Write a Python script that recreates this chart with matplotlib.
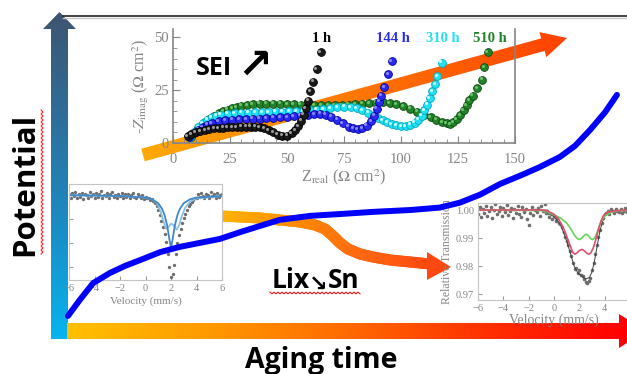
import numpy as np
import matplotlib
matplotlib.use('Agg')
import matplotlib.pyplot as plt
from matplotlib.patches import Polygon
from matplotlib.collections import LineCollection
from matplotlib.colors import LinearSegmentedColormap
from matplotlib.transforms import ScaledTranslation

W, H = 627, 374
plt.rcParams['font.family'] = ['Liberation Serif', 'DejaVu Sans']
plt.rcParams['mathtext.fontset'] = 'stix'
SANS = ['Open Sans', 'DejaVu Sans']
GREY = '#858585'

# ---- potential vs aging time (arbitrary units, 0-100) ----
aging_time = [0, 2.1, 4.5, 7.5, 10.2, 12.9, 16.5, 20.0, 23.6, 27.2, 30.8, 34.3, 37.9, 43.3,
              48.7, 54.6, 61.2, 66.5, 70.1, 73.7, 77.3, 80.9, 84.4, 88.0, 90.7, 93.4, 96.1, 98.2]
potential = [2.3, 7.5, 13.0, 16.3, 18.6, 20.5, 23.1, 24.8, 26.1, 27.4, 29.6, 31.6, 33.6, 34.9,
             35.5, 36.2, 36.8, 37.6, 39.2, 41.8, 45.3, 48.0, 50.8, 54.1, 57.7, 62.9, 68.7, 74.3]

# ---- impedance (Nyquist) data, Ohm cm2 ----
z1_re = [6.5, 8, 10, 12, 14, 16, 18, 20, 22, 24, 26, 28, 30, 32, 34, 36, 38, 40, 42, 44, 46, 48,
         50, 52, 53.5, 55, 56.3, 57.3, 58.2, 59.2, 60.3, 61.4, 63, 64.8]
z1_im = [3.3, 4.2, 5.0, 5.7, 6.2, 6.6, 6.9, 7.1, 7.3, 7.4, 7.5, 7.6, 7.7, 7.8, 7.8, 7.7, 7.4, 6.9,
         6.0, 5.0, 4.0, 3.4, 3.5, 4.6, 6.0, 8.0, 10.5, 13.5, 16.5, 20.0, 24.5, 29.0, 35.0, 43.0]
z144_re = [7, 9, 11, 13, 15, 17, 20, 23, 26, 29, 32, 35, 38, 41, 44, 47, 50, 53, 56, 59, 62, 64.5,
           67, 69.5, 72, 74.5, 77, 79, 81, 83, 85, 86.8, 88.2, 89.4, 90.4, 91.3, 92.5, 94.3, 96]
z144_im = [3.0, 4.8, 6.3, 7.6, 8.6, 9.4, 10.2, 10.8, 11.1, 11.3, 11.4, 11.5, 11.6, 11.7, 11.9, 12.1,
           12.3, 12.6, 12.9, 13.3, 13.7, 13.8, 13.4, 12.5, 11.0, 9.3, 7.8, 6.9, 6.6, 7.0, 8.2, 10.3,
           13.0, 16.3, 19.5, 22.5, 26.5, 32.5, 38.7]
z310_re = [7.5, 9, 11, 13, 15, 17, 19, 21, 24, 27, 30, 33, 36, 39, 42, 45, 48, 51, 54, 57, 60, 63,
           66, 69, 72, 75, 78, 80.5, 83, 85.5, 88, 90, 92, 94, 96, 98, 100, 102, 104, 106, 107.5,
           109, 110.3, 111.5, 112.6, 113.8, 114.9, 116, 117.8]
z310_im = [3.0, 5.0, 7.5, 9.5, 11.0, 12.2, 13.0, 13.5, 13.9, 14.1, 14.3, 14.4, 14.5, 14.6, 14.7, 14.8,
           14.9, 15.0, 15.1, 15.2, 15.4, 15.7, 16.1, 16.6, 17.0, 17.2, 17.0, 16.4, 15.5, 14.4, 13.1,
           11.9, 10.8, 9.8, 9.0, 8.4, 8.0, 8.1, 8.6, 9.6, 11.0, 13.0, 15.5, 18.2, 21.2, 24.6, 28.0,
           31.7, 38.0]
z510_re = [8, 9.5, 11, 12.5, 14, 16, 18, 20, 22, 24, 26, 28, 30, 32.5, 35, 38, 41, 44, 47, 50, 53,
           56, 59, 62, 65, 68, 71, 74, 77, 80, 83, 86, 89, 92, 95, 98, 101, 104, 107, 110, 113,
           115.5, 118, 120, 121.5, 123, 124.5, 126, 127.5, 128.8, 130, 131.5, 133.3, 135.5, 136.5, 138]
z510_im = [3.0, 5.0, 7.0, 8.5, 10.0, 11.5, 12.8, 14.0, 15.0, 15.8, 16.5, 17.1, 17.6, 18.0, 18.4,
           18.6, 18.7, 18.7, 18.6, 18.5, 18.4, 18.2, 18.0, 17.9, 17.8, 17.8, 17.9, 18.0, 18.2, 18.4,
           18.7, 18.9, 19.1, 19.2, 19.0, 18.4, 17.4, 16.2, 14.8, 13.4, 12.1, 11.0, 10.0, 9.3, 9.0,
           9.8, 11.2, 13.2, 15.6, 18.0, 20.2, 22.5, 26.0, 30.0, 36.0, 43.0]
series = [
    ('510 h', z510_re, z510_im, '#23832a', '#0c4a10', '#6cc46c', 139.0),
    ('310 h', z310_re, z310_im, '#22e0f5', '#00a8c0', '#c8ffff', 118.4),
    ('144 h', z144_re, z144_im, '#2a2af0', '#0000a0', '#8a8aff', 96.5),
    ('1 h', z1_re, z1_im, '#1a1a1a', '#000000', '#9a9a9a', 65.0),
]

# ---- Moessbauer spectra (relative transmission) ----
fresh_trans = [1.002, 0.997, 1.003, 0.999, 1.004, 0.996, 1.001, 0.998, 1.003, 0.995,
               1.002, 1.000, 0.997, 1.004, 0.999, 1.001, 0.996, 1.003, 0.998, 1.002,
               1.005, 0.997, 1.000, 0.999, 1.003, 0.996, 1.001, 1.004, 0.998, 1.000,
               0.997, 1.002, 0.999, 1.003, 0.996, 1.001, 0.998, 1.002, 0.997, 1.000,
               1.003, 0.998, 0.996, 1.001, 0.999, 0.997, 1.000, 0.995, 0.998, 0.996,
               0.997, 0.994, 0.995,
               0.993, 0.990, 0.986, 0.981, 0.975, 0.968, 0.960, 0.952, 0.941, 0.927,
               0.910, 0.898, 0.901, 0.913, 0.927, 0.940, 0.950, 0.958, 0.965, 0.971,
               0.977, 0.982, 0.986, 0.989, 0.992, 0.994, 0.996, 0.997,
               1.001, 0.998, 1.003, 0.999, 0.996, 1.002, 1.000, 0.997, 1.004, 0.999,
               1.001, 0.996, 1.003, 0.998, 1.000, 1.002]
fresh_fit_v = [-6, -2, 0, 0.5, 1.0, 1.3, 1.5, 1.7, 1.85, 2.0, 2.15, 2.3, 2.5, 2.7, 3.0, 3.5, 4, 6]
fresh_fit_a = [1.0, 0.999, 0.997, 0.995, 0.990, 0.983, 0.975, 0.962, 0.947, 0.934, 0.947, 0.962,
               0.975, 0.983, 0.990, 0.995, 0.997, 0.999]
fresh_fit_b_v = [-6, -2, 0, 0.5, 0.9, 1.2, 1.4, 1.6, 1.8, 2.0, 2.2, 2.45, 2.65, 2.85, 3.1, 3.5, 4, 6]
fresh_fit_b = [1.0, 0.999, 0.997, 0.995, 0.990, 0.979, 0.968, 0.958, 0.960, 0.9645, 0.9625, 0.957,
               0.963, 0.974, 0.984, 0.992, 0.996, 0.999]

aged_trans = [0.9985, 1.0010, 0.9975, 1.0005, 0.9990, 1.0015, 0.9980, 0.9995,
              1.0010, 0.9970, 1.0000, 1.0020, 0.9985, 0.9995, 1.0012, 0.9978,
              1.0008, 0.9992, 1.0018, 0.9982, 0.9998, 1.0006, 0.9972, 1.0004,
              0.9990, 1.0016, 0.9986, 0.9975, 1.0010, 0.9994, 1.0003, 0.9968,
              0.9948, 0.9990, 1.0012, 0.9984, 1.0000, 0.9992, 1.0008, 0.9980,
              1.0014, 0.9995, 1.0020, 0.9988, 0.9990, 0.9975, 0.9985, 0.9968,
              0.9980, 0.9962, 0.9970, 0.9955, 0.9950, 0.9938, 0.9922, 0.9905,
              0.9890, 0.9875, 0.9855, 0.9835, 0.9810, 0.9790, 0.9795, 0.9775,
              0.9785, 0.9770, 0.9765, 0.9755, 0.9745, 0.9740, 0.9748, 0.9760,
              0.9785, 0.9812, 0.9845, 0.9875, 0.9905, 0.9930, 0.9955, 0.9972,
              0.9985, 0.9990, 0.9998, 0.9985, 1.0002, 0.9995, 0.9990, 1.0004,
              0.9996, 0.9992, 1.0005, 0.9990, 0.9998, 1.0006, 0.9994, 1.0000,
              0.9996]
aged_fit_v = [-6, -1, -0.5, 0, 0.5, 1.0, 1.3, 1.6, 1.8, 2.0, 2.2, 2.4, 2.55, 2.7, 2.9, 3.05, 3.2,
              3.4, 3.6, 3.8, 4.0, 4.5, 5.0, 6.0]
aged_fit_green = [1.0, 0.9998, 0.9993, 0.9982, 0.9972, 0.9954, 0.9935, 0.9912, 0.9900, 0.9895,
                  0.9900, 0.9910, 0.9914, 0.9910, 0.9898, 0.9895, 0.9900, 0.9920, 0.9945, 0.9965,
                  0.9978, 0.9992, 0.9997, 0.9999]
aged_fit_pink_v = [-6, -1, -0.5, 0, 0.4, 0.8, 1.1, 1.3, 1.5, 1.65, 1.8, 2.0, 2.2, 2.4, 2.6, 2.75,
                   2.9, 3.1, 3.3, 3.5, 3.7, 3.9, 4.2, 5, 6]
aged_fit_pink = [1.0, 1.0, 0.9996, 0.9985, 0.9965, 0.9930, 0.9895, 0.9870, 0.9848, 0.9843, 0.9847,
                 0.9856, 0.9860, 0.9855, 0.9846, 0.9843, 0.9847, 0.9865, 0.9895, 0.9930, 0.9960,
                 0.9980, 0.9992, 0.9998, 1.0]
aged_fit_total_v = [-6, -0.5, 0, 0.5, 1.0, 1.3, 1.6, 1.9, 2.2, 2.5, 2.8, 3.0, 3.2, 3.4, 3.6, 3.8,
                    4.0, 4.5, 6]
aged_fit_total = [1.0, 1.0, 0.9975, 0.995, 0.989, 0.9845, 0.980, 0.9775, 0.9765, 0.9755, 0.9760,
                  0.978, 0.982, 0.987, 0.992, 0.9955, 0.998, 0.9995, 1.0]

fig = plt.figure(figsize=(W / 100, H / 100), dpi=100)


def box(l, t, r, b):
    return [l / W, 1 - b / H, (r - l) / W, (b - t) / H]


deco = fig.add_axes([0, 0, 1, 1], zorder=0)
deco.axis('off')


def grad_fill(verts, p0, p1, colors, z=1):
    poly = Polygon(verts, closed=True, facecolor='none', edgecolor='none')
    deco.add_patch(poly)
    xs = [v[0] for v in verts]
    ys = [v[1] for v in verts]
    x0, x1, y0, y1 = min(xs), max(xs), min(ys), max(ys)
    gx, gy = np.meshgrid(np.linspace(x0, x1, 300), np.linspace(y0, y1, 300))
    d = np.subtract(p1, p0).astype(float)
    t = ((gx - p0[0]) * d[0] + (gy - p0[1]) * d[1]) / (d @ d)
    cmap = LinearSegmentedColormap.from_list('g', colors)
    im = deco.imshow(np.clip(t, 0, 1), cmap=cmap, vmin=0, vmax=1, extent=(x0, x1, y1, y0),
                     origin='upper', aspect='auto', interpolation='bilinear', zorder=z)
    im.set_clip_path(poly)


def arrow_verts(p0, tip, half_w, head_half, head_len):
    p0 = np.array(p0, float)
    tip = np.array(tip, float)
    u = (tip - p0) / np.linalg.norm(tip - p0)
    n = np.array([-u[1], u[0]])
    base = tip - head_len * u
    return [p0 + half_w * n, base + half_w * n, base + head_half * n, tip,
            base - head_half * n, base - half_w * n, p0 - half_w * n]


# axis arrows
grad_fill(arrow_verts((59.5, 339), (59.5, 12), 8.5, 16.5, 17), (59.5, 339), (59.5, 12),
          ['#06b4ee', '#1a8dc6', '#2e6f9c', '#3d5570'])
grad_fill(arrow_verts((67, 331), (646, 331), 8, 17, 27), (67, 331), (627, 331),
          ['#ffc000', '#ff9a00', '#ff6a00', '#ff3000', '#ff0000'])
# SEI growth arrow
grad_fill(arrow_verts((143, 155), (567, 38), 6.5, 13, 25), (143, 155), (567, 38),
          ['#ffa800', '#ff8a00', '#ff6400', '#ff4200'], z=1)

# Li_x Sn arrow (curved)
way = np.array([(222, 216), (240, 217), (260, 218), (280, 220), (300, 222), (315, 225), (325, 229),
                (333, 236), (340, 243), (348, 249), (360, 254), (373, 257), (390, 260), (410, 262),
                (430, 264)], float)
pts = [way[0]]
for a, b in zip(way[:-1], way[1:]):
    for f in np.linspace(0, 1, 8)[1:]:
        pts.append(a + (b - a) * f)
pts = np.array(pts)
segs = np.stack([pts[:-1], pts[1:]], axis=1)
cm_curve = LinearSegmentedColormap.from_list('c', ['#ffb400', '#ff9000', '#ff6a10', '#ff4a10'])
tt = (segs[:, 0, 0] - 222) / (430 - 222)
deco.add_collection(LineCollection(segs, colors=cm_curve(tt), linewidths=8, capstyle='round',
                                   joinstyle='round', zorder=1))
deco.add_patch(Polygon([(427, 252), (451, 267), (427, 280)], closed=True, facecolor='#ff4812',
                       edgecolor='none', zorder=1))

# top frame line
deco.plot([63, 627], [18, 18], color='#c8c8c8', lw=1.0, zorder=1)
deco.plot([63, 627], [16, 16], color='#222222', lw=1.2, zorder=2)

# big labels
deco.text(25, 184, 'Potential', rotation=90, ha='center', va='center', fontsize=22.5,
          fontweight='bold', family=SANS, color='black')
deco.text(321, 368, 'Aging time', ha='center', va='baseline', fontsize=20.5,
          fontweight='bold', family=SANS, color='black')
deco.text(196, 75, 'SEI', ha='left', va='baseline', fontsize=18,
          fontweight='bold', family=SANS, color='black', zorder=3)
deco.text(255, 66, '\u2197', ha='center', va='center', fontsize=30,
          fontweight='bold', family=['DejaVu Sans'], color='black', zorder=3)
deco.text(272, 288, 'Lix', ha='left', va='baseline', fontsize=19,
          fontweight='bold', family=SANS, color='black')
deco.text(318, 285, '\u2198', ha='center', va='center', fontsize=16,
          fontweight='bold', family=['DejaVu Sans'], color='black')
deco.text(328, 288, 'Sn', ha='left', va='baseline', fontsize=19,
          fontweight='bold', family=SANS, color='black')

# spell-check style wavy underlines
wy = np.arange(110, 256, 2.0)
deco.plot(42 + np.where(np.arange(len(wy)) % 2 == 0, -0.9, 0.9), wy, color='#ff1a1a', lw=0.8)
wx = np.arange(270, 361, 2.0)
deco.plot(wx, 293 + np.where(np.arange(len(wx)) % 2 == 0, -0.9, 0.9), color='#ff1a1a', lw=0.8)

deco.set_xlim(0, W)
deco.set_ylim(H, 0)

# ---- Nyquist inset ----
eis = fig.add_axes(box(173, 29, 515, 143), zorder=2)
eis.patch.set_alpha(0)
hl = eis.transData + ScaledTranslation(-1.0 / 72, 1.0 / 72, fig.dpi_scale_trans)
for name, zr, zi, fc, ec, hc, lx in series:
    eis.plot(zr, zi, 'o', ms=5.6, mfc=fc, mec=ec, mew=0.6, clip_on=False, zorder=3)
    eis.plot(zr, zi, 'o', ms=2.2, mfc=hc, mec='none', clip_on=False, transform=hl, zorder=3)
    eis.text(lx, 49.5, name, ha='center', va='center', fontsize=10.5, fontweight='bold',
             color=ec if name == '1 h' else fc, family=['Liberation Serif'])
eis.set_xlim(0, 150)
eis.set_ylim(0, 54)
eis.set_xticks([0, 25, 50, 75, 100, 125, 150])
eis.set_yticks([0, 25, 50])
eis.set_xticks(np.arange(0, 151, 5), minor=True)
eis.set_yticks(np.arange(0, 51, 5), minor=True)
eis.spines['top'].set_visible(False)
for s in ['left', 'bottom', 'right']:
    eis.spines[s].set_color(GREY)
    eis.spines[s].set_linewidth(1.2)
eis.tick_params(which='both', direction='in', color=GREY, labelcolor=GREY, labelsize=10.5)
eis.tick_params(axis='x', which='major', length=5, pad=7)
eis.tick_params(axis='y', which='major', length=5, pad=3)
eis.tick_params(which='minor', length=3)
eis.set_xlabel(r'Z$_{\mathrm{real}}$ ($\Omega$ cm$^2$)', fontsize=11.5, color=GREY, labelpad=1)
eis.set_ylabel(r'-$Z_{\mathrm{imag}}$ ($\Omega$ cm$^2$)', fontsize=11.5, color=GREY, labelpad=2)


# ---- Moessbauer insets ----
def moss_style(ax, size, ticks):
    for s in ax.spines.values():
        s.set_color('#c4c4c4')
        s.set_linewidth(0.8)
    ax.set_xlim(-6, 6)
    ax.set_xticks(ticks)
    ax.tick_params(direction='in', length=3, color='#9a9a9a', labelcolor=GREY,
                   labelsize=size, pad=3)


fresh = fig.add_axes(box(69, 184, 222, 280), zorder=1)
fresh.plot(np.linspace(-6, 6, len(fresh_trans)), fresh_trans, 'o', ms=2.4, color='#6e6e6e',
           mec='none')
fresh.plot(fresh_fit_b_v, fresh_fit_b, color='#8cc0e6', lw=1.3)
fresh.plot(fresh_fit_v, fresh_fit_a, color='#3f88c8', lw=1.3)
moss_style(fresh, 7.5, [-6, -4, -2, 0, 2, 4, 6])
fresh.set_ylim(0.894, 1.014)
fresh.set_yticks([0.91, 0.94, 0.97, 1.0])
fresh.set_yticklabels([])
fresh.set_xlabel('Velocity (mm/s)', fontsize=8, color=GREY, labelpad=2)

aged = fig.add_axes(box(478, 203, 630, 300), zorder=1)
aged.plot(np.linspace(-6, 6, len(aged_trans)), aged_trans, 'o', ms=2.6, color='#6e6e6e',
          mec='none')
aged.plot(aged_fit_total_v, aged_fit_total, color='#404040', lw=0.7)
aged.plot(aged_fit_v, aged_fit_green, color='#66d35a', lw=1.2)
aged.plot(aged_fit_pink_v, aged_fit_pink, color='#e0506e', lw=1.2)
moss_style(aged, 7.5, [-6, -4, -2, 0, 2, 4])
aged.set_ylim(0.968, 1.0025)
aged.set_yticks([0.97, 0.98, 0.99, 1.00])
aged.set_yticklabels(['0.97', '0.98', '0.99', '1.00'])
aged.set_xlabel('Velocity (mm/s)', fontsize=10, color=GREY, labelpad=0)
aged.set_ylabel('Relative Transmission', fontsize=8.5, color=GREY, labelpad=2)

# ---- potential curve on top ----
pax = fig.add_axes(box(68, 16, 627, 323), zorder=5)
pax.patch.set_alpha(0)
pax.axis('off')
pax.plot(aging_time, potential, color='#0000ff', lw=4.3, solid_capstyle='round',
         solid_joinstyle='round', clip_on=False)
pax.set_xlim(0, 100)
pax.set_ylim(0, 100)

fig.savefig('out.png', dpi=100)
